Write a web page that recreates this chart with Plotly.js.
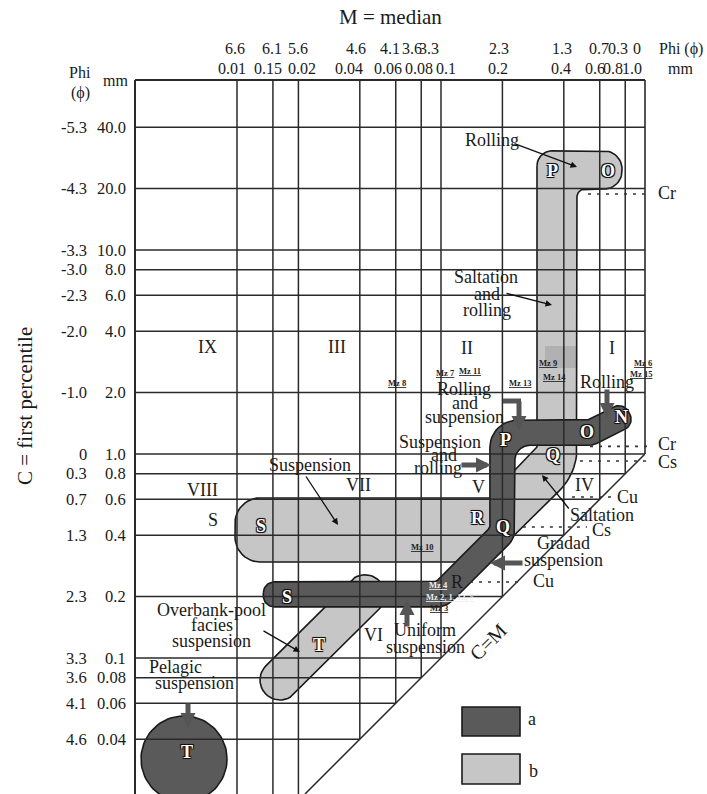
<!DOCTYPE html>
<html><head><meta charset="utf-8">
<script src="https://cdn.plot.ly/plotly-3.0.1.min.js"></script>
<style>html,body{margin:0;padding:0;background:#fff;}#chart{width:707px;height:794px;}</style>
</head><body><div id="chart"></div>
<script>
// ---------------- data ----------------
const medianMM    = [0.01,0.015,0.02,0.04,0.06,0.08,0.1,0.2,0.4,0.6,0.8,1.0];
const medianPhi   = ['6.6','6.1','5.6','4.6','4.1','3.6','3.3','2.3','1.3','0.7','0.3','0'];
const medianLabel = ['0.01','0.15','0.02','0.04','0.06','0.08','0.1','0.2','0.4','0.6','0.8','1.0'];
const percentileMM    = [40,20,10,8,6,4,2,1,0.8,0.6,0.4,0.2,0.1,0.08,0.06,0.04];
const percentilePhi   = ['-5.3','-4.3','-3.3','-3.0','-2.3','-2.0','-1.0','0','0.3','0.7','1.3','2.3','3.3','3.6','4.1','4.6'];
const percentileLabel = ['40.0','20.0','10.0','8.0','6.0','4.0','2.0','1.0','0.8','0.6','0.4','0.2','0.1','0.08','0.06','0.04'];

// pattern a (dark): centre line S-R-Q-P-O-N  (M, C in mm)
const patternA_M = [0.0155, 0.1, 0.2, 0.2, 0.537, 0.738];
const patternA_C = [0.205, 0.205, 0.41, 1.27, 1.27, 1.49];
// pattern b (light): outline O-P-Q-R-S
const patternB_M = [0.2955,0.7716,0.7716,0.464,0.464,0.170,0.00978,0.00978,0.1945,0.2305,0.2955];
const patternB_C = [30.6,30.6,19.9,19.9,0.807,0.2955,0.2955,0.609,0.609,0.835,1.07];
// overbank-pool T (light) centre line
const overbankM = [0.01625, 0.0424];
const overbankC = [0.078, 0.204];
// pelagic T (dark) centre
const pelagicM = 0.0055, pelagicC = 0.032;
// C limits (dotted)
const limitNames = ['Cr','Cr','Cs','Cu','Cs','Cu'];
const limitC  = [18.8, 1.09, 0.924, 0.616, 0.439, 0.236];
const limitM0 = [0.5255, 0.5375, 0.48, 0.4386, 0.252, 0.1387];
const limitM1 = [1.034, 1.058, 1.082, 0.689, 0.5196, 0.2495];

// ---------------- geometry helpers ----------------
const SERIF = 'Liberation Serif, Times New Roman, serif';
const XR = [-2.5, 0], YR = [-5/3, 11/6];
const L = v => Math.log10(v);
const sub=(a,b)=>[a[0]-b[0],a[1]-b[1]], add=(a,b)=>[a[0]+b[0],a[1]+b[1]], mul=(a,s)=>[a[0]*s,a[1]*s];
const len=a=>Math.hypot(a[0],a[1]), nrm=a=>{const l=len(a);return [a[0]/l,a[1]/l];};
const DEC = 1/204; // one plot pixel in decades

function roundPoly(P,R,seg){
  const out=[],n=P.length;
  for(let i=0;i<n;i++){
    const v=P[i],a=P[(i-1+n)%n],b=P[(i+1)%n],r=R[i];
    const va=sub(a,v),vb=sub(b,v),la=len(va),lb=len(vb);
    const u1=mul(va,1/la),u2=mul(vb,1/lb);
    const th=Math.acos(Math.max(-1,Math.min(1,u1[0]*u2[0]+u1[1]*u2[1])));
    if(r<=0||th>Math.PI-1e-3){out.push(v);continue;}
    let t=r/Math.tan(th/2); const tmax=Math.min(la,lb)*0.5; if(t>tmax)t=tmax;
    const rr=t*Math.tan(th/2);
    const T1=add(v,mul(u1,t)),T2=add(v,mul(u2,t));
    const C=add(v,mul(nrm(add(u1,u2)),rr/Math.sin(th/2)));
    const a1=Math.atan2(T1[1]-C[1],T1[0]-C[0]),a2=Math.atan2(T2[1]-C[1],T2[0]-C[0]);
    let d=a2-a1; while(d>Math.PI)d-=2*Math.PI; while(d<-Math.PI)d+=2*Math.PI;
    for(let k=0;k<=seg;k++){const g=a1+d*k/seg;out.push([C[0]+rr*Math.cos(g),C[1]+rr*Math.sin(g)]);}
  }
  out.push(out[0]); return out;
}
function tubePoly(Ms,Cs,hw,ext,capR,joins){
  const C=Ms.map((m,i)=>[L(m),L(Cs[i])]),n=C.length,d=[],nn=[];
  for(let k=0;k<n-1;k++){const dk=nrm(sub(C[k+1],C[k]));d.push(dk);nn.push([-dk[1],dk[0]]);}
  const left=[],right=[],rl=[],rr=[];
  const s0=sub(C[0],mul(d[0],ext));
  left.push(add(s0,mul(nn[0],hw)));right.push(sub(s0,mul(nn[0],hw)));rl.push(capR);rr.push(capR);
  for(let i=1;i<n-1;i++){
    const m=add(nn[i-1],nn[i]),s=hw/(m[0]*nn[i][0]+m[1]*nn[i][1]),off=mul(m,s);
    left.push(add(C[i],off));right.push(sub(C[i],off));
    const cr=d[i-1][0]*d[i][1]-d[i-1][1]*d[i][0],j=joins[i-1];
    if(cr>0){rl.push(j.i);rr.push(j.o);}else{rl.push(j.o);rr.push(j.i);}
  }
  const e=add(C[n-1],mul(d[n-2],ext));
  left.push(add(e,mul(nn[n-2],hw)));right.push(sub(e,mul(nn[n-2],hw)));rl.push(capR);rr.push(capR);
  return roundPoly(left.concat(right.slice().reverse()),rl.concat(rr.slice().reverse()),12);
}
function toData(pts){return {x:pts.map(p=>Math.pow(10,p[0])),y:pts.map(p=>Math.pow(10,p[1]))};}

const DARK='#5a5a5a', LIGHT='#c6c6c6', EDGE='#1a1a1a';
const traces=[];
function fillTrace(pts,color){const d=toData(pts);
  traces.push({type:'scatter',mode:'lines',x:d.x,y:d.y,fill:'toself',fillcolor:color,line:{color:EDGE,width:1.6},hoverinfo:'skip'});}

// pattern b big outline
const bPts=patternB_M.map((m,i)=>[L(m),L(patternB_C[i])]);
const bR=[15,18,18,8,60,10,25,25,5,0,3].map(r=>r*DEC);
fillTrace(roundPoly(bPts,bR,12),LIGHT);
// overbank T bar
fillTrace(tubePoly(overbankM,overbankC,20*DEC,20*DEC,20*DEC,[]),LIGHT);
// pattern a tube
fillTrace(tubePoly(patternA_M,patternA_C,12.5*DEC,12.5*DEC,11*DEC,
  [{o:22*DEC,i:8*DEC},{o:22*DEC,i:6*DEC},{o:27*DEC,i:15*DEC},{o:20*DEC,i:10*DEC}]),DARK);
// pelagic circle
(function(){const c=[L(pelagicM),L(pelagicC)],r=43*DEC,p=[];
  for(let k=0;k<=90;k++){const g=2*Math.PI*k/90;p.push([c[0]+r*Math.cos(g),c[1]+r*Math.sin(g)]);}
  fillTrace(p,DARK);})();

// grid lines (stop at C = M)
const ymin=Math.pow(10,YR[0]), ymax=Math.pow(10,YR[1]), xmin=Math.pow(10,XR[0]);
const gx=[],gy=[];
medianMM.forEach(m=>{ if(m>=1) return; gx.push(m,m,null); gy.push(ymax,Math.max(m,ymin),null); });
percentileMM.forEach(c=>{ gx.push(xmin,Math.min(c,1),null); gy.push(c,c,null); });
traces.push({type:'scatter',mode:'lines',x:gx,y:gy,line:{color:'#2a2a2a',width:1.5},hoverinfo:'skip',connectgaps:false});
// C = M line
traces.push({type:'scatter',mode:'lines',x:[ymin,1],y:[ymin,1],line:{color:'#2a2a2a',width:1.5},hoverinfo:'skip'});

// ---------------- annotations ----------------
const PX=p=>(p-135)/510, PY=p=>(794-p)/714;
const xpD=m=>(L(m)-XR[0])/(XR[1]-XR[0]), ypD=c=>(L(c)-YR[0])/(YR[1]-YR[0]);
const ann=[], shapes=[];
const F=(size,color,more)=>Object.assign({family:SERIF,size:size,color:color||'#1a1a1a'},more||{});
function txt(t,x,y,size,extra){ann.push(Object.assign({xref:'paper',yref:'paper',x:PX(x),y:PY(y),text:t,showarrow:false,
  xanchor:'center',yanchor:'middle',font:F(size||18)},extra||{}));}

// titles
txt('M = median',390,17,21);
txt('C = first percentile',25,406,21,{textangle:-90});
// top tick labels
const phiShift=[-2,-1,0,-4,-6,-9,-12,-3,-2,-1,-7,-8];
const mmShift=[-5,-5,4,-11,-8,-2,5,-4,-3,-5,-12,-13];
medianMM.forEach((m,i)=>{
  ann.push({xref:'x',yref:'paper',x:L(m),y:PY(49),xshift:phiShift[i],xanchor:'center',yanchor:'middle',text:medianPhi[i],showarrow:false,font:F(16)});
  ann.push({xref:'x',yref:'paper',x:L(m),y:PY(68),xshift:mmShift[i],xanchor:'center',yanchor:'middle',text:medianLabel[i],showarrow:false,font:F(16)});
});
txt('Phi (ϕ)',681,49,16); txt('mm',680,68,16);
txt('Phi',80,72,16); txt('(ϕ)',80,93,16); txt('mm',115,80,16);
// left tick labels
percentileMM.forEach((c,i)=>{
  ann.push({xref:'paper',yref:'y',x:PX(89),y:L(c),xanchor:'right',yanchor:'middle',text:percentilePhi[i],showarrow:false,font:F(16.5)});
  ann.push({xref:'paper',yref:'y',x:PX(128),y:L(c),xanchor:'right',yanchor:'middle',text:percentileLabel[i],showarrow:false,font:F(16.5)});
});
// roman numerals
[['IX',207,347],['III',337,347],['II',467,348],['I',612,348],['VIII',202,490],['VII',358,485],['V',478,487],['IV',584,485],['VI',373,635]]
  .forEach(r=>txt(r[0],r[1],r[2],18));
// descriptive labels (line by line)
[['Rolling',492,140],['Saltation',486,277],['and',487,294],['rolling',487,310],
 ['Rolling',464,389],['and',465,403],['suspension',464,417],
 ['Rolling',607,382],
 ['Suspension',440,442],['and',444,455],['rolling',438,468],
 ['Suspension',310,465],['Saltation',602,515],
 ['Gradad',563,543],['suspension',563,560],
 ['Uniform',425,630],['suspension',425,647],
 ['Overbank-pool',211,610],['facies',212,625],['suspension',211,641],
 ['Pelagic',175,667],['suspension',194,683],
 ['S',213,520],['R',457,582],['a',532,719],['b',533,771]
].forEach(r=>txt(r[0],r[1],r[2],18));
// C=M
txt('C=M',488,642,20,{textangle:-45});
// limit labels
[['Cr',667,193],['Cr',667,444],['Cs',667,462],['Cu',627,497],['Cs',601,530],['Cu',543,581]].forEach(r=>txt(r[0],r[1],r[2],18));
// pattern letters
const SH='-1px -1px 0 #111, 1px -1px 0 #111, -1px 1px 0 #111, 1px 1px 0 #111, 0 0 2px #111';
[['P',552,171],['O',608,171],['Q',553,455],['R',478,518],['S',261,526],['T',319,645],
 ['P',505,440],['O',587,432],['N',621,417],['Q',503,527],['S',287,597],['T',187,752]]
 .forEach(r=>txt(r[0],r[1],r[2],18,{font:F(18,'#ffffff',{weight:'bold',shadow:SH})}));
// Mz sample labels
[['Mz 8',397,383,'#222'],['Mz 7',445,373,'#222'],['Mz 11',470,371,'#222'],['Mz 13',520,383,'#222'],
 ['Mz 9',548,363,'#222'],['Mz 14',554,377,'#222'],['Mz 6',643,363,'#222'],['Mz 15',641,374,'#222'],
 ['Mz 10',422,547,'#222'],['Mz 4',438,585,'#eee'],['Mz 2, 1, 12, 5',450,597,'#eee'],['Mz 3',439,608,'#222']]
 .forEach(r=>txt(r[0],r[1],r[2],8.5,{font:F(8.5,r[3],{weight:'bold',lineposition:'under'})}));
// arrows
function arrow(x0,y0,x1,y1,thick){ann.push({xref:'paper',yref:'paper',x:PX(x1),y:PY(y1),ax:x0-x1,ay:y0-y1,text:'',showarrow:true,
  arrowhead:2,arrowsize:thick?0.6:1,arrowwidth:thick?5:1.3,arrowcolor:thick?'#555':'#111',standoff:0});}
arrow(513,143,577,167,false); arrow(505,293,552,305,false); arrow(305,475,338,525,false);
arrow(570,510,542,475,false); arrow(262,630,300,652,false);
arrow(519,400,519,431,true); arrow(607,388,607,418,true); arrow(460,465,491,465,true);
arrow(524,563,490,563,true); arrow(407,628,407,600,true); arrow(188,702,188,728,true);
shapes.push({type:'line',xref:'paper',yref:'paper',x0:PX(503),y0:PY(401),x1:PX(521),y1:PY(401),line:{color:'#555',width:5}});

// borders
shapes.push({type:'line',xref:'paper',yref:'paper',x0:0,y0:1,x1:1,y1:1,line:{color:'#2a2a2a',width:2}});
shapes.push({type:'line',xref:'paper',yref:'paper',x0:0,y0:0,x1:0,y1:1,line:{color:'#2a2a2a',width:2}});
shapes.push({type:'line',xref:'paper',yref:'paper',x0:1,y0:ypD(1),x1:1,y1:1,line:{color:'#2a2a2a',width:1.6}});
// dotted limits
limitC.forEach((c,i)=>shapes.push({type:'line',xref:'paper',yref:'paper',x0:xpD(limitM0[i]),x1:xpD(limitM1[i]),y0:ypD(c),y1:ypD(c),
  line:{color:'#333',width:1.6,dash:'3px,6px'}}));
// darker smudge in the saltation band
shapes.push({type:'rect',xref:'paper',yref:'paper',x0:PX(545),x1:PX(576),y0:PY(368),y1:PY(346),fillcolor:'#000',opacity:0.1,line:{width:0}});
// legend boxes
shapes.push({type:'rect',xref:'paper',yref:'paper',x0:PX(462),x1:PX(520),y0:PY(736),y1:PY(707),fillcolor:DARK,line:{color:EDGE,width:1.6}});
shapes.push({type:'rect',xref:'paper',yref:'paper',x0:PX(462),x1:PX(520),y0:PY(784),y1:PY(754),fillcolor:LIGHT,line:{color:EDGE,width:1.6}});

const layout={width:707,height:794,margin:{l:135,r:62,t:80,b:0},paper_bgcolor:'#fff',plot_bgcolor:'#fff',
  xaxis:{type:'log',range:XR,visible:false,fixedrange:true},
  yaxis:{type:'log',range:YR,visible:false,fixedrange:true},
  showlegend:false,shapes:shapes,annotations:ann,font:{family:SERIF,color:'#1a1a1a'}};
Plotly.newPlot('chart',traces,layout,{staticPlot:true,displayModeBar:false});
</script></body></html>
